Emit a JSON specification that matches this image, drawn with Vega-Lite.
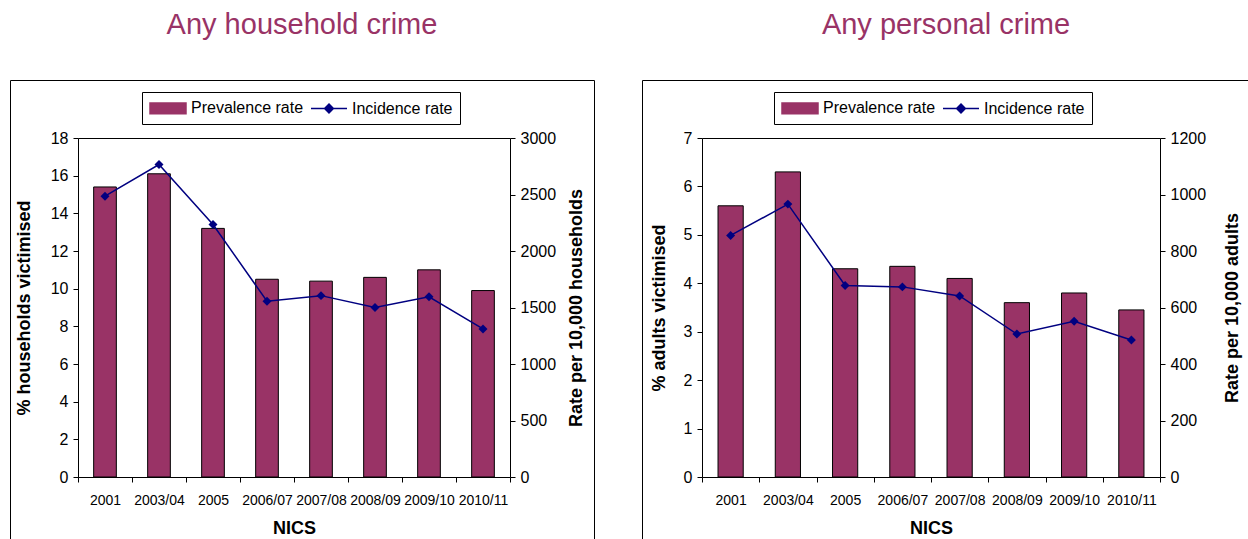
{
  "$schema": "https://vega.github.io/schema/vega-lite/v6.json",
  "padding": {"left": 9, "top": 10, "right": 0, "bottom": 0},
  "spacing": 46,
  "resolve": {
    "scale": {"color": "independent", "shape": "independent"},
    "legend": {"color": "independent", "shape": "independent"}
  },
  "config": {
    "font": "Liberation Sans",
    "view": {"stroke": "black", "strokeWidth": 1},
    "axis": {
      "domainColor": "black",
      "tickColor": "black",
      "labelColor": "black",
      "titleColor": "black",
      "labelFont": "Liberation Sans",
      "titleFont": "Liberation Sans",
      "domainWidth": 1,
      "tickWidth": 1
    },
    "title": {
      "font": "Liberation Sans",
      "fontSize": 29,
      "fontWeight": "normal",
      "color": "#993366",
      "anchor": "middle",
      "frame": "group",
      "baseline": "alphabetic",
      "offset": 40
    },
    "legend": {
      "orient": "none",
      "direction": "horizontal",
      "strokeColor": "black",
      "fillColor": "white",
      "padding": 7,
      "labelFontSize": 16,
      "labelColor": "black",
      "labelFont": "Liberation Sans",
      "symbolSize": 256,
      "symbolOpacity": 1,
      "symbolStrokeWidth": 1.5,
      "labelOffset": 24,
      "columnPadding": 4,
      "cornerRadius": 0
    }
  },
  "datasets": {
    "household": [
      {"year": "2001", "prevalence": 15.4, "incidence": 2485},
      {"year": "2003/04", "prevalence": 16.1, "incidence": 2765},
      {"year": "2005", "prevalence": 13.2, "incidence": 2235},
      {"year": "2006/07", "prevalence": 10.5, "incidence": 1555},
      {"year": "2007/08", "prevalence": 10.4, "incidence": 1605},
      {"year": "2008/09", "prevalence": 10.6, "incidence": 1500},
      {"year": "2009/10", "prevalence": 11.0, "incidence": 1595},
      {"year": "2010/11", "prevalence": 9.9, "incidence": 1310}
    ],
    "personal": [
      {"year": "2001", "prevalence": 5.6, "incidence": 855},
      {"year": "2003/04", "prevalence": 6.3, "incidence": 966},
      {"year": "2005", "prevalence": 4.3, "incidence": 678},
      {"year": "2006/07", "prevalence": 4.35, "incidence": 673},
      {"year": "2007/08", "prevalence": 4.1, "incidence": 641},
      {"year": "2008/09", "prevalence": 3.6, "incidence": 506},
      {"year": "2009/10", "prevalence": 3.8, "incidence": 551},
      {"year": "2010/11", "prevalence": 3.45, "incidence": 485}
    ]
  },
  "hconcat": [
    {
      "title": {"text": "Any household crime"},
      "width": 584,
      "height": 460,
      "data": {"name": "household"},
      "encoding": {
        "x": {
          "field": "year",
          "type": "nominal",
          "sort": null,
          "scale": {"range": [68, 500], "paddingInner": 0, "paddingOuter": 0},
          "axis": {
            "orient": "bottom",
            "offset": -63,
            "title": "NICS",
            "titleFontSize": 18,
            "titleFontWeight": "bold",
            "titlePadding": 12,
            "labelFontSize": 14,
            "labelAngle": 0,
            "labelPadding": 11,
            "labelOverlap": false,
            "tickSize": 5,
            "tickBand": "extent"
          }
        }
      },
      "layer": [
        {
          "mark": {"type": "bar", "width": {"band": 0.42}, "stroke": "black", "strokeWidth": 1},
          "encoding": {
            "y": {
              "field": "prevalence",
              "type": "quantitative",
              "scale": {"domain": [0, 18], "range": [397, 58], "nice": false},
              "axis": {
                "orient": "left",
                "offset": -68,
                "values": [0, 2, 4, 6, 8, 10, 12, 14, 16, 18],
                "tickSize": 5,
                "labelPadding": 5,
                "labelFontSize": 16,
                "title": "% households victimised",
                "titleFontSize": 18,
                "titleFontWeight": "bold",
                "titlePadding": 17,
                "grid": true,
                "gridColor": "black",
                "gridOpacity": {"condition": {"test": "datum.value === 18", "value": 1}, "value": 0}
              }
            },
            "color": {
              "datum": "Prevalence rate",
              "scale": {"domain": ["Prevalence rate", "Incidence rate"], "range": ["#993366", "#000080"]},
              "legend": {"title": null, "legendX": 132, "legendY": 12}
            }
          }
        },
        {
          "mark": {"type": "line", "strokeWidth": 1.5, "point": {"shape": "diamond", "size": 80, "filled": true, "opacity": 1}},
          "encoding": {
            "y": {
              "field": "incidence",
              "type": "quantitative",
              "scale": {"domain": [0, 3000], "range": [397, 58], "nice": false},
              "axis": {
                "orient": "right",
                "offset": -84,
                "values": [0, 500, 1000, 1500, 2000, 2500, 3000],
                "format": "d",
                "tickSize": 5,
                "labelPadding": 5,
                "labelFontSize": 16,
                "title": "Rate per 10,000 households",
                "titleAngle": 270,
                "titleBaseline": "top",
                "titleFontSize": 18,
                "titleFontWeight": "bold",
                "titlePadding": 12,
                "grid": false
              }
            },
            "color": {"datum": "Incidence rate"}
          }
        },
        {
          "mark": {"type": "point", "opacity": 0},
          "encoding": {
            "shape": {
              "datum": "Prevalence rate",
              "scale": {
                "domain": ["Prevalence rate", "Incidence rate"],
                "range": ["M-1,-0.66H3.5V0.66H-1Z", "M-1,0H3.5M1.25,-0.55L1.8,0L1.25,0.55L0.7,0Z"]
              },
              "legend": {"title": null, "legendX": 132, "legendY": 12}
            }
          }
        }
      ],
      "resolve": {"scale": {"y": "independent"}}
    },
    {
      "title": {"text": "Any personal crime"},
      "width": 608,
      "height": 460,
      "data": {"name": "personal"},
      "encoding": {
        "x": {
          "field": "year",
          "type": "nominal",
          "sort": null,
          "scale": {"range": [60, 518], "paddingInner": 0, "paddingOuter": 0},
          "axis": {
            "orient": "bottom",
            "offset": -63,
            "title": "NICS",
            "titleFontSize": 18,
            "titleFontWeight": "bold",
            "titlePadding": 12,
            "labelFontSize": 14,
            "labelAngle": 0,
            "labelPadding": 11,
            "labelOverlap": false,
            "tickSize": 5,
            "tickBand": "extent"
          }
        }
      },
      "layer": [
        {
          "mark": {"type": "bar", "width": {"band": 0.44}, "stroke": "black", "strokeWidth": 1},
          "encoding": {
            "y": {
              "field": "prevalence",
              "type": "quantitative",
              "scale": {"domain": [0, 7], "range": [397, 58], "nice": false},
              "axis": {
                "orient": "left",
                "offset": -60,
                "values": [0, 1, 2, 3, 4, 5, 6, 7],
                "tickSize": 5,
                "labelPadding": 5,
                "labelFontSize": 16,
                "title": "% adults victimised",
                "titleFontSize": 18,
                "titleFontWeight": "bold",
                "titlePadding": 15,
                "grid": true,
                "gridColor": "black",
                "gridOpacity": {"condition": {"test": "datum.value === 7", "value": 1}, "value": 0}
              }
            },
            "color": {
              "datum": "Prevalence rate",
              "scale": {"domain": ["Prevalence rate", "Incidence rate"], "range": ["#993366", "#000080"]},
              "legend": {"title": null, "legendX": 132, "legendY": 12}
            }
          }
        },
        {
          "mark": {"type": "line", "strokeWidth": 1.5, "point": {"shape": "diamond", "size": 80, "filled": true, "opacity": 1}},
          "encoding": {
            "y": {
              "field": "incidence",
              "type": "quantitative",
              "scale": {"domain": [0, 1200], "range": [397, 58], "nice": false},
              "axis": {
                "orient": "right",
                "offset": -90,
                "values": [0, 200, 400, 600, 800, 1000, 1200],
                "format": "d",
                "tickSize": 5,
                "labelPadding": 5,
                "labelFontSize": 16,
                "title": "Rate per 10,000 adults",
                "titleAngle": 270,
                "titleBaseline": "top",
                "titleFontSize": 18,
                "titleFontWeight": "bold",
                "titlePadding": 18,
                "grid": false
              }
            },
            "color": {"datum": "Incidence rate"}
          }
        },
        {
          "mark": {"type": "point", "opacity": 0},
          "encoding": {
            "shape": {
              "datum": "Prevalence rate",
              "scale": {
                "domain": ["Prevalence rate", "Incidence rate"],
                "range": ["M-1,-0.66H3.5V0.66H-1Z", "M-1,0H3.5M1.25,-0.55L1.8,0L1.25,0.55L0.7,0Z"]
              },
              "legend": {"title": null, "legendX": 132, "legendY": 12}
            }
          }
        }
      ],
      "resolve": {"scale": {"y": "independent"}}
    }
  ]
}
